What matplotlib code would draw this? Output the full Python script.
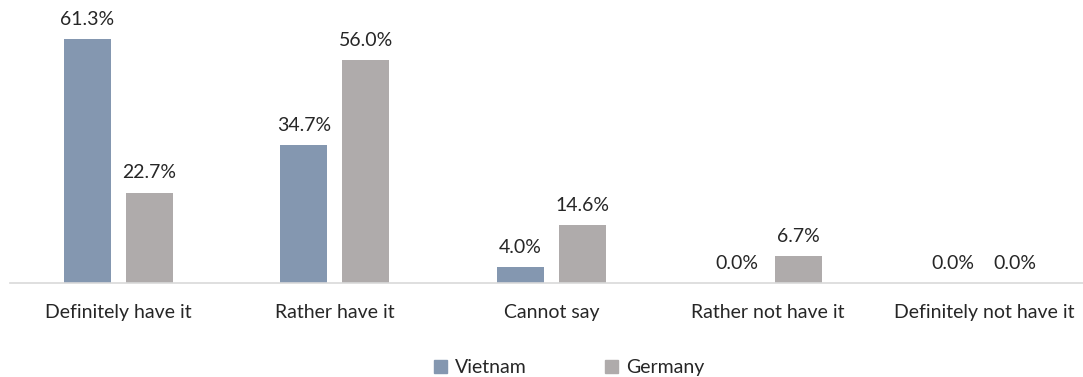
import matplotlib
matplotlib.use("Agg")
import matplotlib.pyplot as plt
import numpy as np
from matplotlib.patches import Patch

plt.rcParams['font.family'] = ['Lato', 'DejaVu Sans']

categories = ["Definitely have it", "Rather have it", "Cannot say", "Rather not have it", "Definitely not have it"]
vietnam = [61.3, 34.7, 4.0, 0.0, 0.0]
germany = [22.7, 56.0, 14.6, 6.7, 0.0]
series_names = ["Vietnam", "Germany"]
colors = ["#8497B0", "#AFABAB"]

fig = plt.figure(figsize=(10.83, 3.77), dpi=100)
ax = fig.add_axes([10/1083, (377-283)/377, 1082.5/1083, 279/377])

x = np.arange(len(categories))
w = 0.217
off = 0.143
for vals, sign, c in [(vietnam, -1, colors[0]), (germany, 1, colors[1])]:
    ax.bar(x + sign*off, vals, width=w, color=c)
    for xi, v in zip(x, vals):
        ax.annotate(f"{v:.1f}%", (xi + sign*off, v), xytext=(0, 8), textcoords='offset points',
                    ha='center', va='bottom', fontsize=14, color='#262626')

ax.set_xlim(-0.5, len(categories) - 0.5)
ax.set_ylim(0, 70)
ax.set_yticks([])
ax.set_xticks(x)
ax.set_xticklabels(categories, fontsize=14, color='#262626')
ax.tick_params(axis='x', length=0, pad=15)
for s in ['top', 'right', 'left']:
    ax.spines[s].set_visible(False)
ax.spines['bottom'].set_color('#D9D9D9')
ax.spines['bottom'].set_linewidth(1.2)

handles = [Patch(color=c) for c in colors]
fig.legend(handles, series_names, loc='center', bbox_to_anchor=(0.5255, 0.025), ncol=2,
           frameon=False, fontsize=14, handlelength=0.65, handleheight=0.65,
           columnspacing=4.05, handletextpad=0.4, labelcolor='#262626')

fig.savefig("out.png", dpi=100)
